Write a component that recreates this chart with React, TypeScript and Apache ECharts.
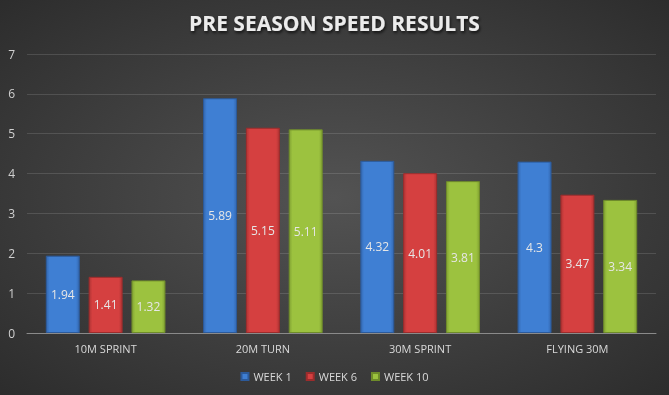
import React, { useEffect, useRef } from "react";
import * as echarts from "echarts";

const categories = ["10M SPRINT", "20M TURN", "30M SPRINT", "FLYING 30M"];
const week1 = [1.94, 5.89, 4.32, 4.3];
const week6 = [1.41, 5.15, 4.01, 3.47];
const week10 = [1.32, 5.11, 3.81, 3.34];
const seriesNames = ["WEEK 1", "WEEK 6", "WEEK 10"];
const yTicks = { min: 0, max: 7, interval: 1 };

function bevel(mid: string, edge: string, border: string) {
  return {
    color: {
      type: "linear",
      x: 0, y: 0, x2: 1, y2: 0,
      colorStops: [
        { offset: 0, color: edge },
        { offset: 0.1, color: mid },
        { offset: 0.9, color: mid },
        { offset: 1, color: edge },
      ],
    },
    borderColor: border,
    borderWidth: 1,
  };
}

export default function App() {
  const ref = useRef<HTMLDivElement>(null);
  useEffect(() => {
    if (!ref.current) return;
    const chart = echarts.init(ref.current, undefined, { renderer: "svg" });
    const font = "'Open Sans', 'Noto Sans', sans-serif";
    const label = {
      show: true,
      position: "inside",
      color: "#e6e6e6",
      fontSize: 12,
      fontFamily: font,
    };
    const styles = [
      bevel("#3f7fd3", "#3468b0", "#2c5a9a"),
      bevel("#d54040", "#b03434", "#9c2c2c"),
      bevel("#9cc23f", "#82a333", "#6f8c2a"),
    ];
    const data = [week1, week6, week10];
    chart.setOption({
      animation: false,
      backgroundColor: {
        type: "radial",
        x: 0.5, y: 0.5, r: 0.75,
        colorStops: [
          { offset: 0, color: "#535353" },
          { offset: 1, color: "#2a2a2a" },
        ],
      },
      title: {
        text: "PRE SEASON SPEED RESULTS",
        left: "center",
        top: 7,
        textStyle: {
          color: "#ececec",
          fontSize: 21,
          fontWeight: "bold",
          fontFamily: font,
          textShadowColor: "rgba(0,0,0,0.7)",
          textShadowBlur: 3,
          textShadowOffsetX: 1,
          textShadowOffsetY: 2,
        },
      },
      legend: {
        bottom: 8,
        left: "center",
        itemWidth: 7,
        itemHeight: 7,
        itemGap: 14,
        icon: "rect",
        textStyle: { color: "#d9d9d9", fontSize: 11, fontFamily: font },
        data: seriesNames,
      },
      grid: { left: 27, right: 13, top: 54, bottom: 62 },
      xAxis: {
        type: "category",
        data: categories,
        axisLine: { lineStyle: { color: "#8a8a8a", width: 1 } },
        axisTick: { show: false },
        axisLabel: { color: "#d9d9d9", fontSize: 11, fontFamily: font, margin: 10 },
      },
      yAxis: {
        type: "value",
        min: yTicks.min,
        max: yTicks.max,
        interval: yTicks.interval,
        axisLine: { show: false },
        axisTick: { show: false },
        axisLabel: { color: "#d0d0d0", fontSize: 12, fontFamily: font, margin: 12 },
        splitLine: { lineStyle: { color: "rgba(255,255,255,0.13)" } },
      },
      series: seriesNames.map((name, i) => ({
        name,
        type: "bar",
        data: data[i],
        barWidth: 34,
        barGap: "26%",
        itemStyle: styles[i],
        label,
      })),
    });
    return () => chart.dispose();
  }, []);
  return (
    <div
      ref={ref}
      style={{ position: "fixed", left: 0, top: 0, width: 669, height: 395 }}
    />
  );
}
